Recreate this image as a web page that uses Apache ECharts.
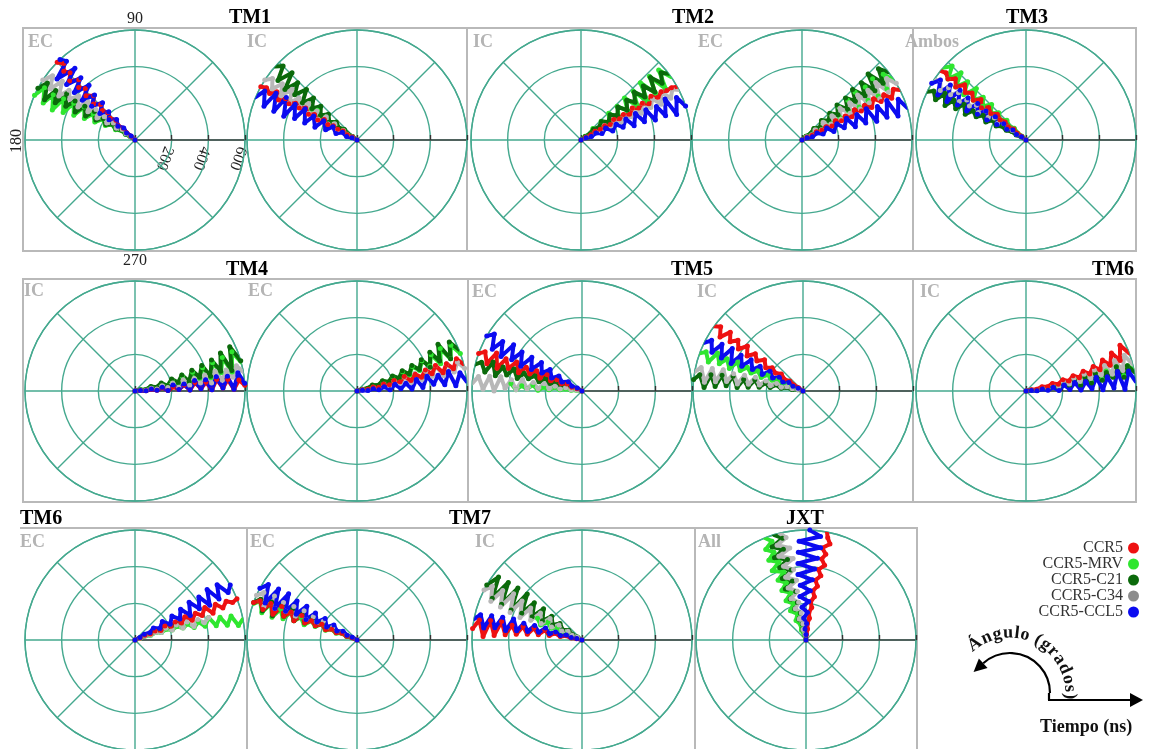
<!DOCTYPE html>
<html><head><meta charset="utf-8">
<script src="https://cdn.jsdelivr.net/npm/echarts@6/dist/echarts.min.js"></script>
<style>html,body{margin:0;padding:0;background:#fff}#c{width:1158px;height:749px}</style>
</head><body><div id="c"></div>
<script>
// ---------------- DATA ----------------
// radius (time, ns) of each sample; angles (degrees)
const RADII = [0,30,60,90,120,150,180,210,240,270,300,330,360,390,420,450,480,510,540,570,600];
const SERIES_NAMES = ['CCR5','CCR5-MRV','CCR5-C21','CCR5-C34','CCR5-CCL5'];
const ANGLE_TICK_LABELS = ['90','180','270'];
const RADIUS_TICKS = [200,400,600];
const RADIUS_TICK_LABELS = ['200','400','600'];
const GROUP_TITLES = ['TM1','TM2','TM3','TM4','TM5','TM6','TM6','TM7','JXT'];
const PANEL_LABELS = ['EC','IC','IC','EC','Ambos','IC','EC','EC','IC','IC','EC','EC','IC','All'];

const TM1_EC = {
  mrv:  [146,144,149,145,152,146,154,147,156,148,157,147,158,149,159,150,160,151,158,150,156],
  c21:  [145,143,148,144,150,145,152,146,153,145,154,146,155,147,154,146,155,148,156,147,152],
  c34:  [142,140,146,141,148,142,149,143,150,142,149,141,150,142,148,143,150,141,149,142,147],
  ccr5: [138,136,139,135,140,134,139,135,138,134,139,133,138,134,137,133,138,134,136,133,135],
  ccl5: [137,134,140,133,141,132,142,133,143,131,142,132,143,130,142,131,141,130,142,131,133]
};
const TM1_IC = {
  mrv:  [146,143,148,142,147,141,148,142,147,143,146],
  c21:  [145,142,147,140,146,139,147,138,146,137,145,136,146,135,144,136,145,134,143,135,138],
  c34:  [150,146,151,145,152,144,151,143,152,144,151,143,150,144,151,142,150,143,149,144,147],
  ccr5: [150,148,152,147,151,149,152,148,153,149,152,148,151,149,152,150,153,149,152,150,151],
  ccl5: [158,155,162,152,163,151,162,150,163,151,162,149,161,150,162,149,161,150,160,152,157]
};
const TM2_IC = {
  mrv:  [38,42,33,44,32,43,31,44,30,43,32,44,31,43,30,44,32,43,31,42,35],
  c21:  [36,40,34,41,35,42,33,41,34,42,33,41,35,42,34,41,33,42,35,40,37],
  c34:  [26,30,25,31,24,32,25,31,24,30,25,32,24,31,25,30,24,31,25,29,27],
  ccr5: [29,31,28,32,29,31,28,32,29,31,28,32,29,31,28,32,29,31,30,30,29],
  ccl5: [20,24,18,25,17,26,16,24,17,25,15,26,16,25,15,24,16,26,15,24,18]
};
const TM2_EC = {
  mrv:  [38,42,34,43,33,42,32,43,31,42,32,41,30,42,31,40,30,41,31,39,33],
  c21:  [40,43,36,44,35,45,36,44,35,45,34,44,36,45,35,44,34,45,35,43,38],
  c34:  [32,36,29,38,28,40,29,39,28,40,29,38,28,39,29,37,28,38,29,36,31],
  ccr5: [26,29,25,30,26,29,25,30,26,29,25,30,26,29,25,30,26,29,25,29,27],
  ccl5: [20,24,17,25,16,26,15,25,16,26,14,25,15,26,14,24,15,25,14,23,17]
};
const TM3_AMBOS = {
  mrv:  [138,136,140,135,141,134,142,135,143,134,142,135,143,134,144,135,143,134,142,135,139],
  c21:  [150,148,153,149,154,150,155,149,156,150,155,151,157,150,156,151,157,150,156,152,154],
  c34:  [146,144,148,145,149,144,150,145,149,144,150,145,149,146,150,145,149,146,150,145,147],
  ccr5: [140,139,142,138,143,139,142,138,143,139,144,138,143,139,142,138,143,139,142,140,141],
  ccl5: [147,144,150,143,151,144,152,143,153,144,152,143,154,144,153,143,154,144,153,145,149]
};
const TM4_IC = {
  mrv:  [8,12,7,14,8,15,9,16,10,17,9,18,11,19,10,20,12,21,11,22,15],
  c21:  [10,14,8,16,10,17,9,18,11,19,10,20,12,21,11,22,13,24,12,25,16],
  c34:  [5,9,4,10,5,11,6,12,5,13,6,12,7,13,6,14,7,13,8,14,10],
  ccr5: [2,5,1,6,2,7,1,6,2,7,1,8,2,7,1,8,2,7,1,6,3],
  ccl5: [3,6,1,7,2,8,1,9,2,8,1,10,2,9,1,10,2,9,1,10,4]
};
const TM4_EC = {
  mrv:  [14,18,13,20,14,21,15,22,16,23,17,24,18,25,19,26,18,27,19,26,20],
  c21:  [15,19,14,21,15,22,16,23,17,24,18,25,19,26,18,28,20,30,19,28,22],
  c34:  [8,12,7,13,8,14,9,15,10,16,9,17,10,16,11,18,10,17,11,16,12],
  ccr5: [10,13,9,14,10,15,11,16,12,17,11,16,12,17,13,18,12,17,13,18,14],
  ccl5: [3,7,2,8,3,9,2,10,3,9,2,11,3,12,5,11,4,12,3,10,5]
};
const TM5_EC = {
  mrv:  [174,172,176,173,177,172,178,174,179,173,178,175,179,174],
  c21:  [164,162,165,161,166,162,167,161,168,162,167,163,169,162,168,163,170,162,169,164,166],
  c34:  [172,170,174,169,175,170,176,169,177,170,178,169,179,171,178,170,180,171,179,172,176],
  ccr5: [158,156,160,155,161,156,162,155,163,156,162,157,164,156,163,157,165,156,164,158,160],
  ccl5: [152,148,155,146,156,147,157,146,156,145,157,146,158,147,156,146,157,148,155,147,150]
};
const TM5_IC = {
  mrv:  [158,156,159,155,160,156,161,155,162,156,161,157,162,156,163,157,162,156,163,158,160],
  c21:  [170,167,172,168,173,167,174,168,175,167,176,169,177,168,176,169,177,170,178,171,174],
  c34:  [166,164,168,165,170,164,171,165,172,164,173,165,174,166,173,165,174,166,175,167,170],
  ccr5: [146,144,147,143,148,142,147,143,148,141,147,142,148,141,147,142,146,141,147,142,144],
  ccl5: [153,150,155,149,156,150,157,149,158,150,157,149,158,150,159,149,158,150,157,151,154]
};
const TM6_IC = {
  mrv:  [6,9,5,10,6,11,7,12,8,13,7,14,8,15,9,14,10,15,9,14,11],
  c21:  [5,8,4,9,5,10,6,11,7,12,6,13,7,14,8,13,9,15,8,14,10],
  c34:  [7,10,6,12,7,13,8,14,9,15,10,16,11,17,12,18,11,19,12,20,14],
  ccr5: [10,13,9,15,11,16,12,17,13,18,14,19,15,20,16,22,17,24,18,26,20],
  ccl5: [3,6,1,7,2,8,1,9,2,10,1,9,2,11,1,10,2,12,1,11,5]
};
const TM6_EC = {
  mrv:  [20,18,21,17,20,16,19,15,18,14,17,12,16,11,17,10,15,9,14,8,11],
  c21:  [24,22,23,21,24,22,23,20,22],
  c34:  [22,19,21,18,20,16,21,15,20,14,19,13,18,14,17],
  ccr5: [24,22,25,21,24,20,25,21,24,20,25,19,24,20,25,19,24,20,23,21,22],
  ccl5: [30,27,32,26,33,25,34,24,33,25,34,24,35,26,34,25,35,26,34,27,30]
};
const TM7_EC = {
  mrv:  [159,157,161,156,162,157,163,156,162,157,164,158,163,157,164,158,165,157,164,158,161],
  c21:  [156,154,158,153,159,154,160,153,161,154,162,155,163,154,162,155,164,156,163,157,160],
  c34:  [154,152,156,151,157,152,158,151,157,152,158,151,159,152,158,153,159,152,160,153,156],
  ccr5: [158,157,160,156,161,157,162,156,161,157,162,156,163,157,162,156,163,157,162,158,160],
  ccl5: [152,149,155,148,156,147,157,146,156,147,158,146,157,147,158,146,159,147,158,148,152]
};
const TM7_IC = {
  mrv:  [155,153,157,152,158,153,159,152,160,154],
  c21:  [148,146,150,144,152,143,153,142,154,141,155,142,156,140,157,141,156,142,155,143,150],
  c34:  [152,149,154,148,156,147,157,146,158,147,159,148,160,147,159,146,158,148,157,149,153],
  ccr5: [168,166,170,165,171,166,172,165,173,166,174,167,175,168,176,167,177,168,178,169,174],
  ccl5: [165,163,167,162,168,163,169,162,170,163,171,164,172,163,173,164,172,165,173,166,169]
};
const JXT_ALL = {
  mrv:  [112,110,115,109,117,108,118,109,117,108,116,109,115,108,116,109,115,110,114,109,112],
  c21:  [106,104,108,103,109,102,110,103,111,102,112,103,111,102,110,103,111,104,110,103,107],
  c34:  [104,102,106,101,108,100,109,101,110,100,109,99,108,100,107,99,108,100,107,101,104],
  ccr5: [84,86,82,85,81,84,80,83,79,82,78,81,77,80,76,79,77,80,76,78,79],
  ccl5: [92,90,95,88,96,87,97,86,98,85,96,84,97,83,96,82,95,81,94,82,88]
};

// ---------------- LAYOUT / STYLE ----------------
const PANELS = [TM1_EC, TM1_IC, TM2_IC, TM2_EC, TM3_AMBOS, TM4_IC, TM4_EC, TM5_EC, TM5_IC, TM6_IC, TM6_EC, TM7_EC, TM7_IC, JXT_ALL];
const CENTERS = [[135,140],[357,140],[581,140],[802,140],[1026,140],
                 [135,391],[357,391],[582,391],[803,391],[1026,391],
                 [135,640],[357,640],[582,640],[806,640]];
const LABEL_POS = [[28,33],[247,33],[473,33],[698,33],[905,33],
                   [24,282],[248,282],[472,283],[697,283],[920,283],
                   [20,533],[250,533],[475,533],[698,533]];
const TITLE_POS = [[250,18,'center'],[693,18,'center'],[1027,18,'center'],
                   [247,270,'center'],[692,270,'center'],[1113,270,'center'],
                   [20,519,'left'],[470,519,'center'],[805,519,'center']];
const KEY = {'CCR5':'ccr5','CCR5-MRV':'mrv','CCR5-C21':'c21','CCR5-C34':'c34','CCR5-CCL5':'ccl5'};
const COLORS = {'CCR5':'#ee1111','CCR5-MRV':'#2fe62f','CCR5-C21':'#0b6a0b','CCR5-C34':'#b8b8b8','CCR5-CCL5':'#0b0bf0'};
const LEGEND_COLORS = {'CCR5':'#ee1111','CCR5-MRV':'#2fe62f','CCR5-C21':'#0b6a0b','CCR5-C34':'#8c8c8c','CCR5-CCL5':'#0b0bf0'};
const DRAW_ORDER = ['CCR5-MRV','CCR5-C21','CCR5-C34','CCR5','CCR5-CCL5'];
const TEAL = '#45a98f';
const SERIF = '"Liberation Serif","DejaVu Serif",serif';

const polar = [], angleAxis = [], radiusAxis = [], series = [];
PANELS.forEach((panel, p) => {
  polar.push({center: CENTERS[p], radius: 110});
  angleAxis.push({
    polarIndex: p, type: 'value', min: 0, max: 360, interval: 45,
    startAngle: 0, clockwise: false,
    axisLine: {lineStyle: {color: TEAL, width: 1.4}},
    axisTick: {show: false},
    axisLabel: {show: p === 0, margin: 3, fontFamily: SERIF, fontSize: 16, color: '#222',
      formatter: v => (v === 90 ? ANGLE_TICK_LABELS[0] : v === 270 ? ANGLE_TICK_LABELS[2] : '')},
    splitLine: {lineStyle: {color: TEAL, width: 1.4}}
  });
  radiusAxis.push({
    polarIndex: p, type: 'value', min: 0, max: 600, interval: 200,
    axisLine: {lineStyle: {color: '#444', width: 1.6}},
    axisTick: {show: true, length: 5, lineStyle: {color: '#333', width: 1.4}},
    axisLabel: {show: false},
    splitLine: {lineStyle: {color: TEAL, width: 1.4}}
  });
  DRAW_ORDER.forEach(name => {
    const angles = panel[KEY[name]];
    series.push({
      name, type: 'line', coordinateSystem: 'polar', polarIndex: p,
      symbol: 'circle', symbolSize: 5, showSymbol: true, showAllSymbol: true,
      animation: false, silent: true,
      lineStyle: {color: COLORS[name], width: 4, join: 'round', cap: 'round'},
      itemStyle: {color: COLORS[name], borderWidth: 0},
      data: angles.map((a, i) => [RADII[i], a])
    });
  });
});

const graphic = [];
// panel group boxes
[[23,28,444,223],[467,28,446,223],[913,28,223,223],
 [23,279,445,223],[468,279,445,223],[913,279,223,223],
 [247,528,448,240],[695,528,222,240]].forEach(r => graphic.push({
  type: 'rect', shape: {x: r[0], y: r[1], width: r[2], height: r[3]},
  style: {fill: 'none', stroke: '#b9b9b9', lineWidth: 2}, z: 0, silent: true}));
graphic.push({type: 'polyline', shape: {points: [[20,528],[247,528],[247,760]]},
  style: {fill: 'none', stroke: '#b9b9b9', lineWidth: 2}, silent: true});
// titles
GROUP_TITLES.forEach((t, i) => graphic.push({type: 'text', x: TITLE_POS[i][0], y: TITLE_POS[i][1],
  style: {text: t, fontFamily: SERIF, fontWeight: 'bold', fontSize: 20, fill: '#000',
    align: TITLE_POS[i][2], verticalAlign: 'middle'}, z: 10}));
// panel labels
PANEL_LABELS.forEach((t, i) => graphic.push({type: 'text', x: LABEL_POS[i][0], y: LABEL_POS[i][1],
  style: {text: t, fontFamily: SERIF, fontWeight: 'bold', fontSize: 18, fill: '#b4b4b4',
    align: 'left', verticalAlign: 'top'}, z: 10}));
// 180 label (rotated)
graphic.push({type: 'text', x: 17, y: 141, rotation: Math.PI / 2,
  style: {text: ANGLE_TICK_LABELS[1], fontFamily: SERIF, fontSize: 16, fill: '#222', align: 'center', verticalAlign: 'middle'}});

// direction diagram
const ACX = 1010, ACY = 693, AR = 40, AEND = 132;
const strokeStyle = {stroke: '#000', lineWidth: 2.2, fill: 'none'};
graphic.push({type: 'polyline', shape: {points: [[1049,700],[1049,ACY]]}, style: strokeStyle});
graphic.push({type: 'polyline', shape: {points: [[1048,700],[1132,700]]}, style: strokeStyle});
graphic.push({type: 'polygon', shape: {points: [[1130,693],[1143,700],[1130,707]]}, style: {fill: '#000'}});
graphic.push({type: 'arc', shape: {cx: ACX, cy: ACY, r: AR, startAngle: -AEND * Math.PI / 180, endAngle: 0, clockwise: true}, style: strokeStyle});
(function () {
  const t = AEND * Math.PI / 180;
  const ex = ACX + AR * Math.cos(t), ey = ACY - AR * Math.sin(t);
  const tx = -Math.sin(t), ty = -Math.cos(t);   // tangent (screen), moving ccw
  const nx = Math.cos(t), ny = -Math.sin(t);    // outward normal (screen)
  graphic.push({type: 'polygon', shape: {points: [
    [ex + 13 * tx, ey + 13 * ty], [ex + 6.5 * nx, ey + 6.5 * ny], [ex - 6.5 * nx, ey - 6.5 * ny]]},
    style: {fill: '#000'}});
})();
// curved text
(function () {
  const txt = [...'Ángulo (grados)'];
  const ctx = document.createElement('canvas').getContext('2d');
  ctx.font = 'bold 18px "Liberation Serif"';
  const w = txt.map(c => ctx.measureText(c).width);
  const total = w.reduce((s, v) => s + v, 0);
  const span = total - w[0] / 2 - w[w.length - 1] / 2;
  const a0 = 126, a1 = -3, r = 60;
  let acc = 0;
  txt.forEach((c, i) => {
    const mid = acc + w[i] / 2; acc += w[i];
    const f = (mid - w[0] / 2) / span;
    const ang = a0 + (a1 - a0) * f;
    const rad = ang * Math.PI / 180;
    graphic.push({type: 'text', x: ACX + r * Math.cos(rad), y: ACY - r * Math.sin(rad),
      rotation: (ang - 90) * Math.PI / 180,
      style: {text: c, fontFamily: SERIF, fontWeight: 'bold', fontSize: 18, fill: '#111', align: 'center', verticalAlign: 'middle'}});
  });
})();
graphic.push({type: 'text', x: 1040, y: 727, style: {text: 'Tiempo (ns)', fontFamily: SERIF, fontWeight: 'bold', fontSize: 18, fill: '#111', align: 'left', verticalAlign: 'middle'}});

const chart = echarts.init(document.getElementById('c'), null, {renderer: 'canvas'});
const option = {
  backgroundColor: '#fff',
  animation: false,
  polar, angleAxis, radiusAxis, series, graphic,
  legend: {
    data: SERIES_NAMES.map(n => ({name: n, itemStyle: {color: LEGEND_COLORS[n]}})),
    orient: 'vertical', right: 14, top: 535, align: 'right', icon: 'circle',
    itemWidth: 11, itemHeight: 11, itemGap: 0, selectedMode: false,
    textStyle: {fontFamily: SERIF, fontSize: 16, color: '#333', lineHeight: 13}
  }
};
chart.setOption(option);
// radius tick labels of the first panel, placed through the polar scale
RADIUS_TICKS.forEach((v, i) => {
  const pt = chart.convertToPixel({polarIndex: 0}, [v, 0]);
  graphic.push({type: 'text', x: pt[0] - 3, y: pt[1] + 7, rotation: -110 * Math.PI / 180,
    style: {text: RADIUS_TICK_LABELS[i], fontFamily: SERIF, fontSize: 16, fill: '#222', align: 'left', verticalAlign: 'middle'}});
});
chart.setOption({graphic});
</script></body></html>
